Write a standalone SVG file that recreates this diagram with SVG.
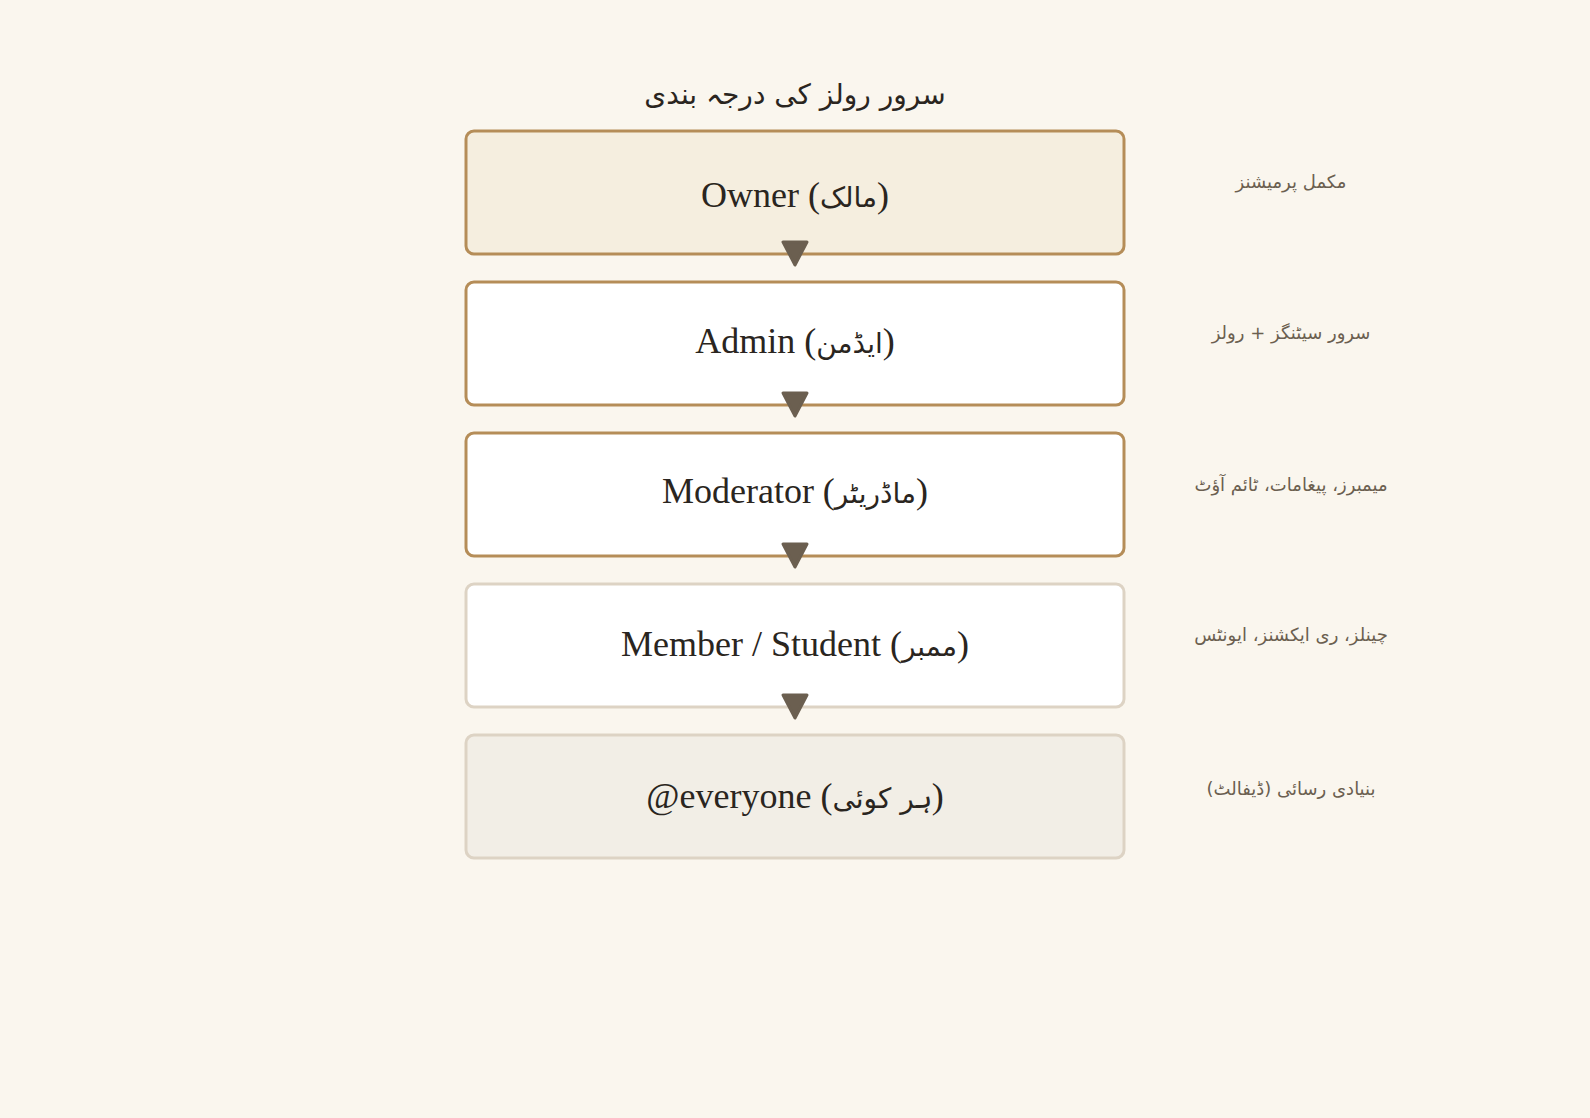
<svg xmlns="http://www.w3.org/2000/svg" width="1590" height="1118" viewBox="0 0 1590 1118">
<defs>
<style>
.bg{fill:#FAF6EE}
.box{stroke-width:3}
.strong{stroke:#B58D58}
.soft{stroke:#DDD3C4}
.label{font-family:'Liberation Serif','DejaVu Sans',serif;font-size:36px;fill:#2A2520;text-anchor:middle}
.ur{font-family:'DejaVu Sans',sans-serif;font-size:28px}
.side{font-family:'DejaVu Sans',sans-serif;font-size:18px;fill:#6B5F50;text-anchor:middle}
.title{font-family:'DejaVu Sans',sans-serif;font-size:28px;fill:#2A2520;text-anchor:middle}
.conn{stroke:#6B5F50;stroke-width:2;fill:none}
</style>
<marker id="arr" markerUnits="userSpaceOnUse" markerWidth="30" markerHeight="30" viewBox="-3 -3 30 30" refX="23" refY="12" orient="auto">
<path d="M0,0 L23,12 L0,24 Z" fill="#6B5F50" stroke="#6B5F50" stroke-width="3" stroke-linejoin="round"/>
</marker>
</defs>
<rect class="bg" x="0" y="0" width="1590" height="1118"/>
<text class="title" x="795" y="104" direction="rtl">سرور رولز کی درجہ بندی</text>
<g id="owner">
<rect class="box strong" x="466" y="131" width="658" height="123" rx="8" fill="#F5EEDF"/>
<text class="label" x="795" y="207">Owner (<tspan class="ur">مالک</tspan>)</text>
<text class="side" x="1291" y="188" direction="rtl">مکمل پرمیشنز</text>
</g>
<g id="admin">
<rect class="box strong" x="466" y="282" width="658" height="123" rx="8" fill="#FFFFFF"/>
<text class="label" x="795" y="353">Admin (<tspan class="ur">ایڈمن</tspan>)</text>
<text class="side" x="1291" y="339" direction="rtl">سرور سیٹنگز + رولز</text>
</g>
<g id="moderator">
<rect class="box strong" x="466" y="433" width="658" height="123" rx="8" fill="#FFFFFF"/>
<text class="label" x="795" y="503">Moderator (<tspan class="ur">ماڈریٹر</tspan>)</text>
<text class="side" x="1291" y="491" direction="rtl">میمبرز، پیغامات، ٹائم آؤٹ</text>
</g>
<g id="member">
<rect class="box soft" x="466" y="584" width="658" height="123" rx="8" fill="#FFFFFF"/>
<text class="label" x="795" y="656">Member / Student (<tspan class="ur">ممبر</tspan>)</text>
<text class="side" x="1291" y="641" direction="rtl">چینلز، ری ایکشنز، ایونٹس</text>
</g>
<g id="everyone">
<rect class="box soft" x="466" y="735" width="658" height="123" rx="8" fill="#F2EEE6"/>
<text class="label" x="795" y="808">@everyone (<tspan class="ur">ہر کوئی</tspan>)</text>
<text class="side" x="1291" y="795" direction="rtl">بنیادی رسائی (ڈیفالٹ)</text>
</g>
<g id="connectors">
<line class="conn" x1="795" y1="244" x2="795" y2="265" marker-end="url(#arr)"/>
<line class="conn" x1="795" y1="395" x2="795" y2="416" marker-end="url(#arr)"/>
<line class="conn" x1="795" y1="546" x2="795" y2="567" marker-end="url(#arr)"/>
<line class="conn" x1="795" y1="697" x2="795" y2="718" marker-end="url(#arr)"/>
</g>
</svg>
